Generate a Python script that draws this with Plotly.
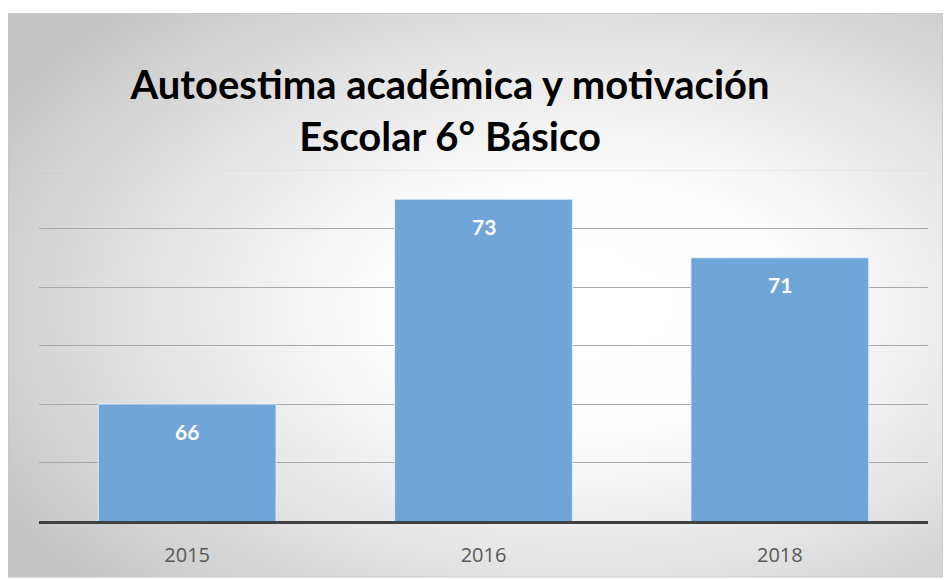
import plotly.graph_objects as go
import base64

years = ["2015", "2016", "2018"]
values = [66, 73, 71]
y_min, y_max = 62, 74
grid_ticks = [64, 66, 68, 70, 72]
title_lines = ["Autoestima académica y motivación", "Escolar 6° Básico"]

W, H = 946, 580
L, R, T, B = 39, 18, 170, 57
pw, ph = W - L - R, H - T - B

def px_to_paper_x(px):
    return (px - L) / pw

def py_to_paper_y(py):
    return (H - B - py) / ph

svg = """<svg xmlns='http://www.w3.org/2000/svg' width='935' height='568' viewBox='0 0 935 568' preserveAspectRatio='none'>
<defs><radialGradient id='g' cx='62%' cy='52%' r='72%' fx='62%' fy='52%'>
<stop offset='0' stop-color='#ffffff'/><stop offset='0.3' stop-color='#fefefe'/>
<stop offset='0.6' stop-color='#e8e8e8'/>
<stop offset='1' stop-color='#c6c6c6'/></radialGradient></defs>
<rect x='0.5' y='0.5' width='934' height='567' fill='url(#g)' stroke='#c8c8c8' stroke-width='1'/>
</svg>"""
src = "data:image/svg+xml;base64," + base64.b64encode(svg.encode()).decode()

fig = go.Figure()
fig.add_trace(go.Bar(
    x=years, y=values,
    marker=dict(color="#70a5d8", line=dict(color="rgba(230,240,250,0.9)", width=1)),
    hoverinfo="x+y",
))

annotations = []
for i, v in enumerate(values):
    annotations.append(dict(x=i, y=v, xref="x", yref="y", text=f"<b>{v}</b>",
                            showarrow=False, yanchor="middle", yshift=-27,
                            font=dict(family="Lato", size=21, color="white")))

fig.update_layout(
    width=W, height=H,
    margin=dict(l=L, r=R, t=T, b=B),
    paper_bgcolor="white",
    plot_bgcolor="rgba(0,0,0,0)",
    bargap=0.4,
    showlegend=False,
    title=dict(text="<b>" + title_lines[0] + "</b><br><b>" + title_lines[1] + "</b>",
               x=450 / W, xref="container", xanchor="center",
               y=1 - 99 / H, yref="container", yanchor="middle",
               font=dict(family="Lato", size=40, color="black")),
    xaxis=dict(type="category", categoryarray=years, range=[-0.5, len(years) - 0.5],
               showgrid=False, showline=True, linecolor="#404040",
               linewidth=3, ticks="", tickfont=dict(family="Open Sans", size=20, color="#595959"),
               ticklabelstandoff=14),
    yaxis=dict(range=[y_min, y_max], tickvals=grid_ticks, showticklabels=False,
               gridcolor="#a8a8a8", gridwidth=1, zeroline=False, showline=False),
    annotations=annotations,
    images=[dict(source=src, xref="paper", yref="paper",
                 x=px_to_paper_x(8), y=py_to_paper_y(12),
                 sizex=935 / pw, sizey=568 / ph, sizing="stretch",
                 xanchor="left", yanchor="top", layer="below")],
    shapes=[dict(type="line", xref="paper", yref="y", x0=0, x1=1, y0=y_max, y1=y_max,
                 line=dict(color="#dcdcdc", width=1), layer="below")],
)

fig.write_html("out.html", config={"displayModeBar": False},
               post_script="document.body.style.margin='0';")
